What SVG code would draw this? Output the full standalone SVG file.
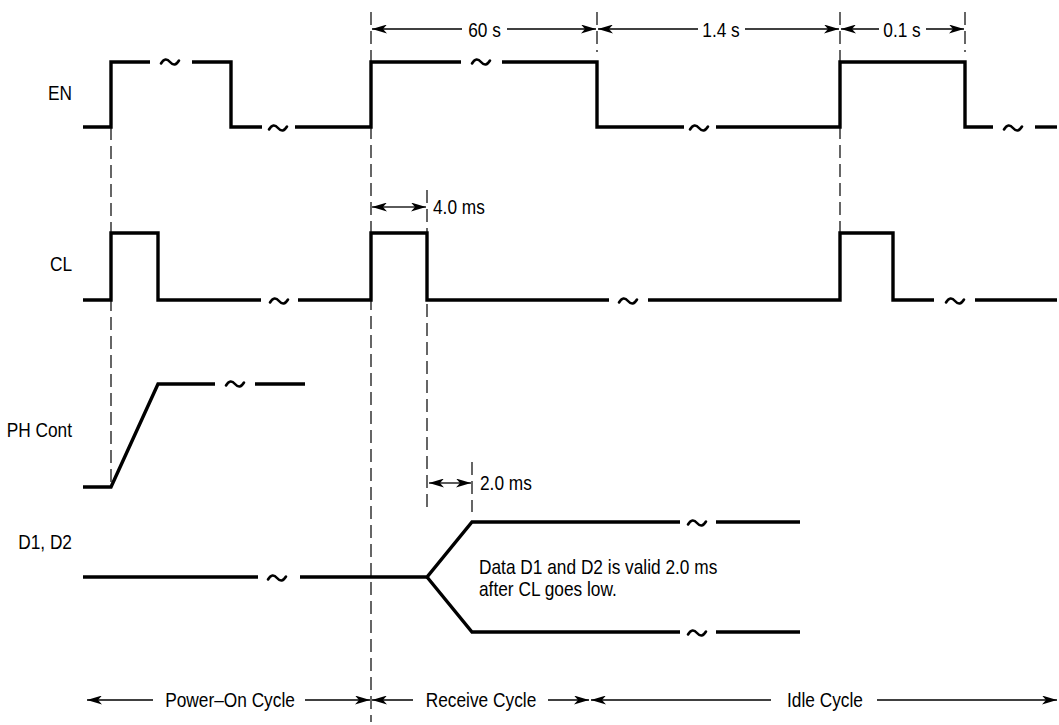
<svg xmlns="http://www.w3.org/2000/svg" width="1059" height="725" viewBox="0 0 1059 725">
<style>
text{font-family:"Liberation Sans",Arial,sans-serif;font-size:20px;fill:#000}
.lbl{text-anchor:end}
.mid{text-anchor:middle}
.w{fill:none;stroke:#000;stroke-width:3.4;stroke-linejoin:miter}
.t{fill:none;stroke:#000;stroke-width:2.6;stroke-linecap:round}
.d{fill:none;stroke:#000;stroke-width:1.2;stroke-dasharray:13 6}
.a{fill:none;stroke:#000;stroke-width:1.3;marker-end:url(#ah)}
</style>
<defs>
<marker id="ah" viewBox="0 0 15 9" refX="15" refY="4.5" markerWidth="15" markerHeight="9" markerUnits="userSpaceOnUse" orient="auto">
<path d="M0,0 L15,4.5 L0,9 L4,4.5 z" fill="#000"/>
</marker>
<path id="tl" d="M-9,1.5 C-6,-3.5 -3,-3.5 0,0 C3,3.5 6,3.5 9,-1.5"/>
</defs>
<rect width="1059" height="725" fill="#fff"/>

<g id="labels">
<text class="lbl" transform="translate(72,100) scale(0.865,1)">EN</text>
<text class="lbl" transform="translate(72,271) scale(0.865,1)">CL</text>
<text class="lbl" transform="translate(72,437) scale(0.865,1)">PH Cont</text>
<text class="lbl" transform="translate(72,549) scale(0.865,1)">D1, D2</text>
</g>

<g id="guides">
<line class="d" x1="111" y1="127" x2="111" y2="487"/>
<line class="d" x1="371" y1="12" x2="371" y2="722"/>
<line class="d" x1="427" y1="190" x2="427" y2="507"/>
<line class="d" x1="472" y1="462" x2="472" y2="512"/>
<line class="d" x1="597" y1="12" x2="597" y2="52"/>
<line class="d" x1="840" y1="12" x2="840" y2="233"/>
<line class="d" x1="965" y1="12" x2="965" y2="52"/>
</g>

<g id="sig-en">
<path class="w" d="M83,127 H111 V62 H150"/>
<use href="#tl" class="t" x="170" y="62"/>
<path class="w" d="M192,62 H231 V127 H262"/>
<use href="#tl" class="t" x="278" y="128"/>
<path class="w" d="M295,127 H371 V62 H461"/>
<use href="#tl" class="t" x="481" y="62"/>
<path class="w" d="M502,62 H597 V127 H684"/>
<use href="#tl" class="t" x="699" y="128"/>
<path class="w" d="M716,127 H840 V62 H965 V127 H993"/>
<use href="#tl" class="t" x="1013" y="128"/>
<path class="w" d="M1035,127 H1057"/>
</g>

<g id="sig-cl">
<path class="w" d="M83,300 H111 V233 H158 V300 H261"/>
<use href="#tl" class="t" x="279" y="301"/>
<path class="w" d="M298,300 H371 V233 H427 V300 H609"/>
<use href="#tl" class="t" x="628" y="301"/>
<path class="w" d="M648,300 H840 V233 H893 V300 H934"/>
<use href="#tl" class="t" x="955" y="301"/>
<path class="w" d="M975,300 H1057"/>
</g>

<g id="sig-ph">
<path class="w" d="M83,487 H111 L158,384 H215"/>
<use href="#tl" class="t" x="235" y="384"/>
<path class="w" d="M255,384 H305"/>
</g>

<g id="sig-d">
<path class="w" d="M83,577 H258"/>
<use href="#tl" class="t" x="277" y="578"/>
<path class="w" d="M300,577 H427 L472,522 H680"/>
<path class="w" d="M427,577 L472,632 H680"/>
<use href="#tl" class="t" x="697" y="523"/>
<use href="#tl" class="t" x="697" y="633"/>
<path class="w" d="M716,522 H800"/>
<path class="w" d="M716,632 H800"/>
<text transform="translate(479,574) scale(0.865,1)">Data D1 and D2 is valid 2.0 ms</text>
<text transform="translate(479,596) scale(0.865,1)">after CL goes low.</text>
</g>

<g id="connectors">
<path class="a" d="M462,29 H372"/>
<path class="a" d="M507,29 H596"/>
<text class="mid" transform="translate(484.5,36.5) scale(0.865,1)">60 s</text>
<path class="a" d="M698,29 H598"/>
<path class="a" d="M745,29 H839"/>
<text class="mid" transform="translate(721,36.5) scale(0.865,1)">1.4 s</text>
<path class="a" d="M879,29 H841"/>
<path class="a" d="M926,29 H964"/>
<text class="mid" transform="translate(902,36.5) scale(0.865,1)">0.1 s</text>

<path class="a" d="M399,207 H372"/>
<path class="a" d="M399,207 H426"/>
<text transform="translate(433,214) scale(0.865,1)">4.0 ms</text>

<path class="a" d="M450,483 H429"/>
<path class="a" d="M450,483 H471"/>
<text transform="translate(480,490) scale(0.865,1)">2.0 ms</text>

<path class="a" d="M153,700 H87"/>
<path class="a" d="M305,700 H370"/>
<text class="mid" transform="translate(230,707) scale(0.865,1)">Power–On Cycle</text>
<path class="a" d="M413,700 H372"/>
<path class="a" d="M548,700 H589"/>
<text class="mid" transform="translate(481,707) scale(0.865,1)">Receive Cycle</text>
<path class="a" d="M771,700 H591"/>
<path class="a" d="M877,700 H1057"/>
<text class="mid" transform="translate(825,707) scale(0.865,1)">Idle Cycle</text>
</g>
</svg>
